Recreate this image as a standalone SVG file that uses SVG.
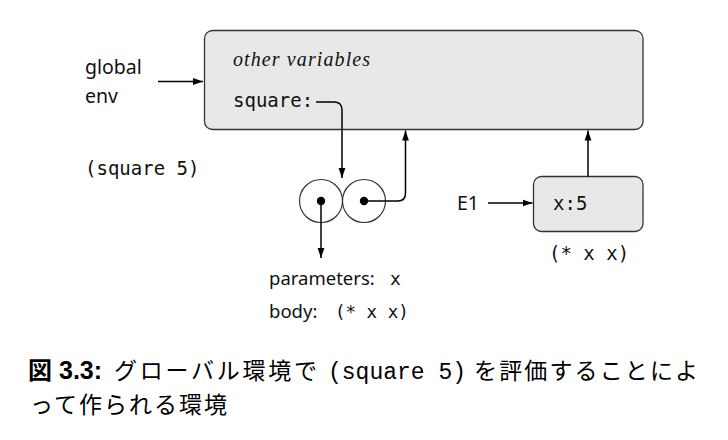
<svg xmlns="http://www.w3.org/2000/svg" width="728" height="440" viewBox="0 0 728 440">
<defs>
<marker id="ah" markerUnits="userSpaceOnUse" markerWidth="11" markerHeight="8" refX="10" refY="4" orient="auto">
<path d="M0,0.6 L10,4 L0,7.4 Z" fill="#000"/>
</marker>
<style>
.box{fill:#e8e8e8;stroke:#333;stroke-width:1.3}
.arr{fill:none;stroke:#000;stroke-width:1.5;marker-end:url(#ah)}
.sans{font-family:"Noto Sans","Open Sans","DejaVu Sans",sans-serif;font-size:19.5px;fill:#111}
.mono{font-family:"DejaVu Sans Mono",monospace;font-size:19px;fill:#111}
.ital{font-family:"Liberation Serif",serif;font-style:italic;font-size:20px;letter-spacing:1.1px;fill:#111}
.cap{font-family:"Noto Sans CJK JP",sans-serif;font-size:23px;fill:#000}
.capb{font-family:"Liberation Sans","Noto Sans CJK JP",sans-serif;font-weight:bold;font-size:25px}
.capm{font-family:"Liberation Mono",monospace;font-size:23px}
</style>
</defs>
<rect width="728" height="440" fill="#fff"/>
<g id="global-env">
<rect class="box" x="204.5" y="30.5" width="438.5" height="99" rx="8"/>
<text class="ital" x="233" y="66">other variables</text>
<text class="mono" x="233" y="107">square:</text>
</g>
<g id="global-label">
<text class="sans" x="85" y="74">global</text>
<text class="sans" x="85" y="103">env</text>
</g>
<g id="call-label">
<text class="mono" x="85" y="175">(square 5)</text>
</g>
<g id="procedure">
<circle cx="321" cy="201" r="21.5" fill="none" stroke="#333" stroke-width="1.2"/>
<circle cx="364" cy="201" r="21.5" fill="none" stroke="#333" stroke-width="1.2"/>
<circle cx="321" cy="201" r="4.2" fill="#000"/>
<circle cx="364" cy="201" r="4.2" fill="#000"/>
</g>
<g id="proc-text">
<text class="sans" x="269" y="285" style="font-size:18.5px">parameters: <tspan class="mono" x="390" style="font-size:18px">x</tspan></text>
<text class="sans" x="269" y="318" style="font-size:18.5px">body: <tspan class="mono" x="335" style="font-size:17.5px">(* x x)</tspan></text>
</g>
<g id="e1-label">
<text class="sans" x="457" y="210">E1</text>
</g>
<g id="e1">
<rect class="box" x="533.5" y="176.5" width="109.5" height="55" rx="8"/>
<text class="mono" x="553" y="210">x:5</text>
</g>
<g id="e1-body">
<text class="mono" x="549" y="260">(* x x)</text>
</g>
<g id="connectors">
<path class="arr" d="M158,81.5 H203"/>
<path class="arr" d="M316,102 H334 Q342,102 342,110 V178"/>
<path class="arr" d="M364,201 H398 Q405.5,201 405.5,193 V130.5"/>
<path class="arr" d="M321,201 V258"/>
<path class="arr" d="M488,203 H532.5"/>
<path class="arr" d="M588,176.5 V130.5"/>
</g>
<g id="caption">
<text class="cap" y="379"><tspan x="28" font-weight="bold" font-size="24">図</tspan><tspan class="capb" x="59">3.3:</tspan><tspan x="114" textLength="203" lengthAdjust="spacing">グローバル環境で</tspan><tspan class="capm" x="328">(square 5)</tspan><tspan x="474" textLength="224" lengthAdjust="spacing">を評価することによ</tspan></text>
<text class="cap" x="30" y="413" textLength="197" lengthAdjust="spacing">って作られる環境</text>
</g>
</svg>
